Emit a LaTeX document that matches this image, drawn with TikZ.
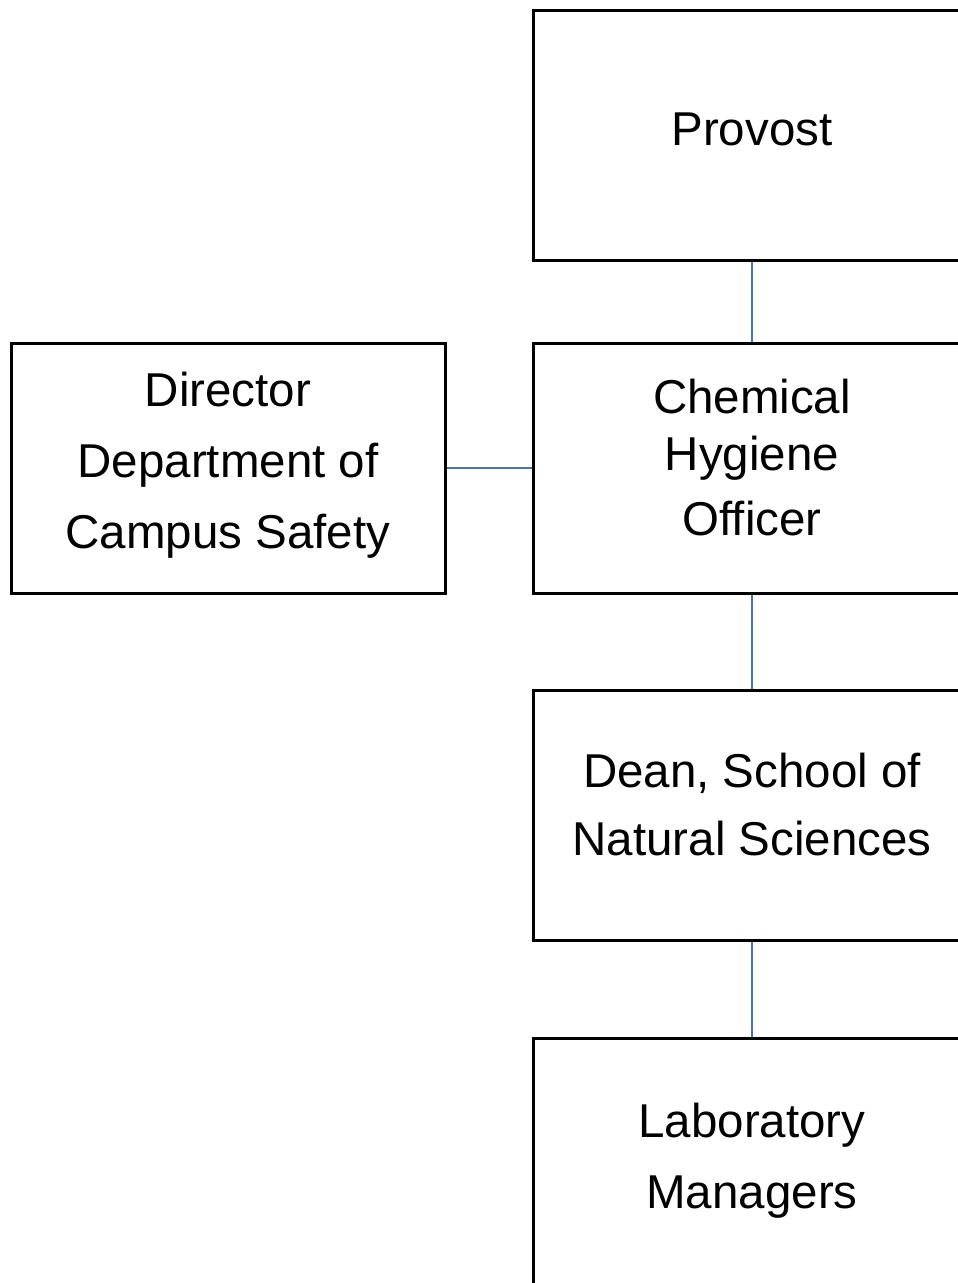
\documentclass[tikz,border=0pt]{standalone}
\usepackage{fontspec}
\setmainfont{Liberation Sans}
\usepackage{xcolor}
\definecolor{linkblue}{HTML}{4472C4}

\begin{document}
\begin{tikzpicture}[x=1pt,y=-1pt,
  orgbox/.style={draw=black,line width=3pt,rectangle,align=center,
    minimum width=438pt,minimum height=250pt,inner sep=0pt,
    text depth=10pt,font=\fontsize{47.5}{71}\selectfont},
  link/.style={draw=linkblue,line width=1.4pt}]
  \useasboundingbox (0,0) rectangle (958,1283);
  \clip (0,0) rectangle (958,1283);
  \node[orgbox,text height=30pt] (provost) at (752,135) {Provost};
  \node[orgbox,text height=144pt,font=\fontsize{47.5}{57}\selectfont] (cho) at (752,468) {Chemical\\Hygiene\\[8pt]Officer};
  \node[orgbox,text height=170pt,minimum width=434pt] (director) at (228,468) {Director\\Department of\\Campus Safety};
  \node[orgbox,text height=90pt] (dean) at (752,815) {Dean, School of\\[-3pt]Natural Sciences};
  \node[orgbox,text height=100pt] (lab) at (752,1163) {Laboratory\\Managers};
  \draw[link] (provost.south) -- (cho.north);
  \draw[link] (director.east) -- (cho.west);
  \draw[link] (cho.south) -- (dean.north);
  \draw[link] (dean.south) -- (lab.north);
\end{tikzpicture}
\end{document}
